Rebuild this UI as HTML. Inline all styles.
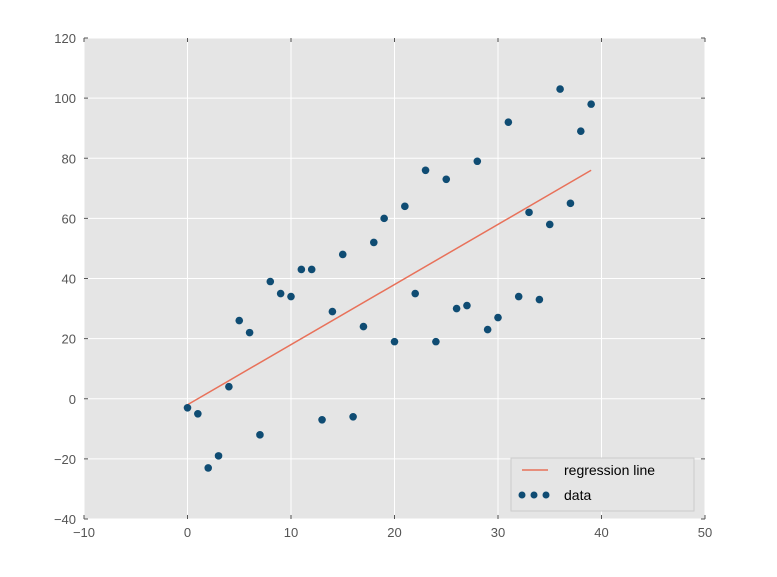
<!DOCTYPE html>
<html><head><meta charset="utf-8"><style>
body{margin:0;background:#fff;}
svg text{font-family:"Liberation Sans",sans-serif;}
</style></head><body>
<svg id="chart" width="777" height="572" viewBox="0 0 777 572">
<rect x="84" y="38" width="621" height="481" fill="#e5e5e5"/>
<g id="grid"></g>
<g id="ticks"></g>
<g id="marks"></g>
<g>
<rect x="511" y="458" width="183" height="53" fill="#e5e5e5" stroke="#ccc"/>
<line x1="522" y1="470" x2="548" y2="470" stroke="#e8715a" stroke-width="1.5"/>
<text x="564" y="475" font-size="14" fill="#000">regression line</text>
<circle cx="522" cy="495" r="3.5" fill="#0f4c73"/>
<circle cx="534" cy="495" r="3.5" fill="#0f4c73"/>
<circle cx="546" cy="495" r="3.5" fill="#0f4c73"/>
<text x="564" y="500" font-size="14" fill="#000">data</text>
</g>
</svg>
<script>
const xs = [0,1,2,3,4,5,6,7,8,9,10,11,12,13,14,15,16,17,18,19,20,21,22,23,24,25,26,27,28,29,30,31,32,33,34,35,36,37,38,39];
const ys = [-3,-5,-23,-19,4,26,22,-12,39,35,34,43,43,-7,29,48,-6,24,52,60,19,64,35,76,19,73,30,31,79,23,27,92,34,62,33,58,103,65,89,98];
const lineX = [0,39];
const lineY = [-2,76];
const xTicks = [-10,0,10,20,30,40,50];
const yTicks = [-40,-20,0,20,40,60,80,100,120];
const NS="http://www.w3.org/2000/svg";
const X0=84,X1=705,Y0=519,Y1=38;
function sx(v){return X0+(v+10)/60*(X1-X0);}
function sy(v){return Y0-(v+40)/160*(Y0-Y1);}
function mk(tag,attrs,parent){const e=document.createElementNS(NS,tag);for(const k in attrs)e.setAttribute(k,attrs[k]);document.getElementById(parent).appendChild(e);return e;}
xTicks.forEach(t=>{
 const g=mk('line',{x1:sx(t),x2:sx(t),y1:Y1,y2:Y0,stroke:'#fff','stroke-width':1},'grid');
 
 
 const l=mk('text',{x:sx(t),y:Y0+18,'font-size':13,fill:'#555','text-anchor':'middle'},'ticks');
 l.textContent=t==-10?'\u221210':t;
 
 
 [[Y0,Y0-4],[Y1,Y1+4]].forEach(p=>{const m=mk('line',{x1:sx(t),x2:sx(t),y1:p[0],y2:p[1],stroke:'#555'},'ticks');
 
 });
});
yTicks.forEach(t=>{
 const g=mk('line',{x1:X0,x2:X1,y1:sy(t),y2:sy(t),stroke:'#fff','stroke-width':1},'grid');
 
 
 const l=mk('text',{x:X0-8,y:sy(t)+5,'font-size':13,fill:'#555','text-anchor':'end'},'ticks');
 l.textContent=t<0?'\u2212'+(-t):t;
 
 
 [[X0,X0+4],[X1,X1-4]].forEach(p=>{const m=mk('line',{x1:p[0],x2:p[1],y1:sy(t),y2:sy(t),stroke:'#555'},'ticks');
 
 });
});
const rl=mk('line',{x1:sx(lineX[0]),y1:sy(lineY[0]),x2:sx(lineX[1]),y2:sy(lineY[1]),stroke:'#e8715a','stroke-width':1.5},'marks');


xs.forEach((x,i)=>{
 const c=mk('circle',{cx:sx(x),cy:sy(ys[i]),r:3.8,fill:'#0f4c73'},'marks');
 
 
});
</script>
</body></html>
